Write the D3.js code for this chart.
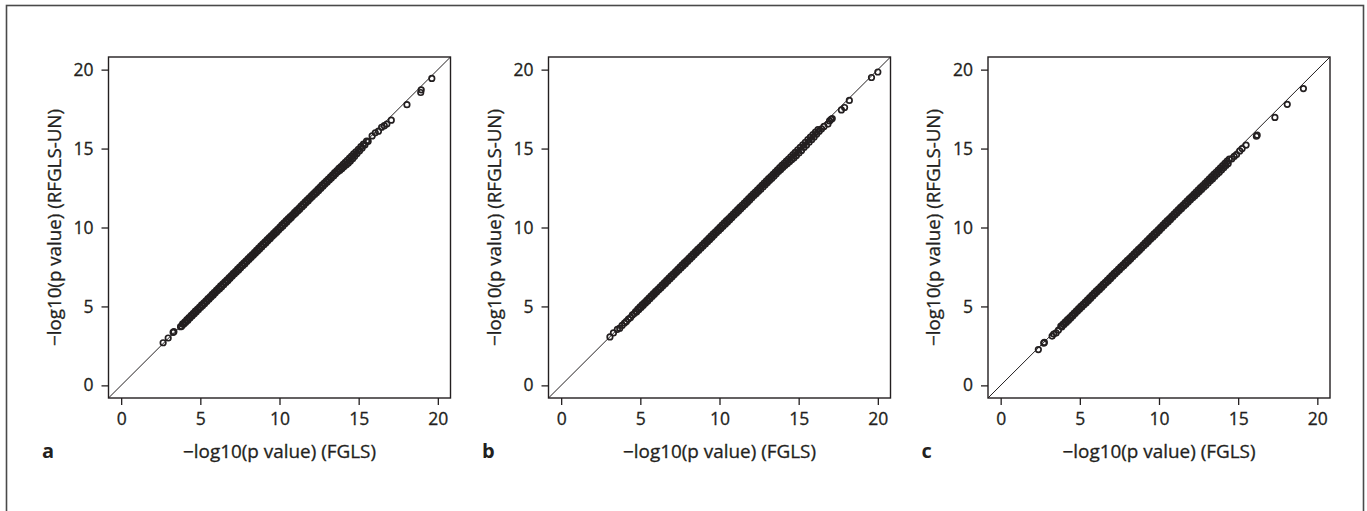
<!DOCTYPE html>
<html>
<head>
<meta charset="utf-8">
<script src="https://cdn.jsdelivr.net/npm/d3@7"></script>
<style>
  html, body { margin: 0; padding: 0; background: #ffffff; }
  svg { display: block; }
  text { font-family: "Open Sans", "Noto Sans", sans-serif; fill: #231f20; }
  .lbl { stroke: #231f20; stroke-width: 0.3px; paint-order: stroke; }
</style>
</head>
<body>
<svg id="chart" width="1367" height="511"></svg>
<script>
// Axis ticks and labels shared by the three comparison panels
const tickValues = [0, 5, 10, 15, 20];
const panelLetters = ["a", "b", "c"];
const xTitle = "\u2212log10(p value) (FGLS)";
const yTitle = "\u2212log10(p value) (RFGLS-UN)";

// Panel a: [-log10 p (FGLS), -log10 p (RFGLS-UN)]
const pointsA = [
  [2.65,2.70],[2.97,3.00],[3.28,3.36],[3.33,3.40],
  [3.75,3.72],[3.82,3.74],[3.88,3.89],[3.95,3.87],[4.02,4.03],[4.08,4.00],[4.15,4.16],[4.22,4.13],[4.28,4.30],[4.35,4.26],
  [4.42,4.43],[4.48,4.40],[4.55,4.56],[4.62,4.53],[4.68,4.70],[4.75,4.66],[4.82,4.83],[4.88,4.79],[4.95,4.96],[5.02,4.93],
  [5.08,5.10],[5.15,5.06],[5.22,5.23],[5.28,5.19],[5.35,5.36],[5.42,5.33],[5.48,5.50],[5.55,5.46],[5.62,5.63],[5.68,5.59],
  [5.75,5.76],[5.82,5.72],[5.88,5.90],[5.95,5.86],[6.02,6.03],[6.08,5.99],[6.15,6.16],[6.22,6.12],[6.28,6.30],[6.35,6.25],
  [6.42,6.43],[6.48,6.38],[6.55,6.56],[6.62,6.52],[6.68,6.69],[6.75,6.65],[6.82,6.83],[6.88,6.78],[6.95,6.96],[7.02,6.92],
  [7.08,7.09],[7.15,7.05],[7.22,7.23],[7.28,7.18],[7.35,7.36],[7.42,7.31],[7.48,7.49],[7.55,7.45],[7.62,7.63],[7.68,7.58],
  [7.75,7.76],[7.82,7.71],[7.88,7.89],[7.95,7.85],[8.02,8.03],[8.08,7.97],[8.15,8.16],[8.22,8.11],[8.28,8.29],[8.35,8.24],
  [8.42,8.43],[8.48,8.37],[8.55,8.56],[8.62,8.51],[8.68,8.69],[8.75,8.64],[8.82,8.83],[8.88,8.77],[8.95,8.96],[9.02,8.91],
  [9.08,9.09],[9.15,9.04],[9.22,9.23],[9.28,9.17],[9.35,9.36],[9.42,9.31],[9.48,9.49],[9.55,9.44],[9.62,9.63],[9.68,9.57],
  [9.75,9.76],[9.82,9.70],[9.88,9.89],[9.95,9.84],[10.02,10.03],[10.08,9.97],[10.15,10.16],[10.22,10.10],[10.28,10.29],[10.35,10.24],
  [10.42,10.43],[10.48,10.37],[10.55,10.56],[10.62,10.50],[10.68,10.69],[10.75,10.63],[10.82,10.82],[10.88,10.77],[10.95,10.96],[11.02,10.90],
  [11.08,11.09],[11.15,11.03],[11.22,11.22],[11.28,11.16],[11.35,11.36],[11.42,11.30],[11.48,11.49],[11.55,11.43],[11.62,11.62],[11.68,11.56],
  [11.75,11.75],[11.82,11.70],[11.88,11.88],[11.95,11.83],[12.02,12.02],[12.08,11.96],[12.15,12.15],[12.22,12.09],[12.28,12.28],[12.35,12.22],
  [12.42,12.42],[12.48,12.35],[12.55,12.55],[12.62,12.49],[12.68,12.68],[12.75,12.62],[12.82,12.81],[12.88,12.75],[12.95,12.94],[13.02,12.88],
  [13.08,13.07],[13.15,13.01],[13.22,13.21],[13.28,13.14],[13.35,13.34],[13.42,13.27],[13.48,13.47],[13.55,13.40],[13.62,13.61],[13.68,13.53],
  [13.75,13.74],[13.82,13.62],[13.88,13.86],[13.95,13.74],[14.02,14.00],[14.08,13.86],[14.15,14.12],[14.22,13.98],[14.28,14.26],[14.35,14.08],
  [14.42,14.39],[14.48,14.22],[14.55,14.52],[14.62,14.36],[14.68,14.66],[14.75,14.52],[14.82,14.79],[14.90,14.68],[14.98,14.95],[15.06,14.86],
  [15.14,15.12],[15.22,15.04],[15.30,15.28],[15.40,15.24],[15.50,15.48],[15.60,15.46],
  [15.85,15.80],[16.05,16.00],[16.25,16.10],[16.45,16.35],[16.62,16.45],[16.78,16.55],[17.06,16.80],
  [18.05,17.78],[18.92,18.55],[18.95,18.72],[19.62,19.44]
];

// Panel b
const pointsB = [
  [3.08,3.07],[3.30,3.32],[3.55,3.55],[3.70,3.62],[3.85,3.80],[4.00,3.95],[4.12,4.05],[4.25,4.20],[4.38,4.30],[4.50,4.46],[4.62,4.55],
  [4.70,4.68],[4.77,4.66],[4.84,4.83],[4.91,4.80],[4.98,4.97],[5.05,4.93],[5.12,5.11],[5.19,5.07],[5.26,5.25],[5.33,5.21],
  [5.40,5.39],[5.47,5.35],[5.54,5.53],[5.61,5.49],[5.68,5.67],[5.75,5.63],[5.82,5.81],[5.89,5.77],[5.96,5.95],[6.03,5.91],
  [6.10,6.09],[6.17,6.05],[6.24,6.23],[6.31,6.18],[6.38,6.37],[6.45,6.32],[6.52,6.51],[6.59,6.46],[6.66,6.65],[6.73,6.60],
  [6.80,6.79],[6.87,6.74],[6.94,6.93],[7.01,6.88],[7.08,7.07],[7.15,7.02],[7.22,7.21],[7.29,7.16],[7.36,7.35],[7.43,7.30],
  [7.50,7.49],[7.57,7.44],[7.64,7.63],[7.71,7.57],[7.78,7.77],[7.85,7.71],[7.92,7.91],[7.99,7.85],[8.06,8.05],[8.13,7.99],
  [8.20,8.19],[8.27,8.13],[8.34,8.33],[8.41,8.27],[8.48,8.47],[8.55,8.41],[8.62,8.61],[8.69,8.55],[8.76,8.75],[8.83,8.69],
  [8.90,8.89],[8.97,8.83],[9.04,9.03],[9.11,8.96],[9.18,9.17],[9.25,9.10],[9.32,9.31],[9.39,9.24],[9.46,9.45],[9.53,9.38],
  [9.60,9.59],[9.67,9.52],[9.74,9.73],[9.81,9.66],[9.88,9.87],[9.95,9.80],[10.02,10.01],[10.09,9.94],[10.16,10.15],[10.23,10.08],
  [10.30,10.29],[10.37,10.21],[10.44,10.43],[10.51,10.35],[10.58,10.57],[10.65,10.49],[10.72,10.71],[10.79,10.63],[10.86,10.85],[10.93,10.77],
  [11.00,10.99],[11.07,10.91],[11.14,11.13],[11.21,11.05],[11.28,11.27],[11.35,11.19],[11.42,11.41],[11.49,11.33],[11.56,11.55],[11.63,11.46],
  [11.70,11.69],[11.77,11.60],[11.84,11.83],[11.91,11.74],[11.98,11.97],[12.05,11.88],[12.12,12.11],[12.19,12.02],[12.26,12.25],[12.33,12.16],
  [12.40,12.39],[12.47,12.30],[12.54,12.53],[12.61,12.43],[12.68,12.67],[12.75,12.57],[12.82,12.81],[12.89,12.71],[12.96,12.95],[13.03,12.85],
  [13.10,13.09],[13.17,12.99],[13.24,13.23],[13.31,13.12],[13.38,13.37],[13.45,13.26],[13.52,13.51],[13.59,13.40],[13.66,13.65],[13.73,13.54],
  [13.80,13.79],[13.87,13.67],[13.94,13.93],[14.01,13.81],[14.08,14.07],[14.15,13.94],[14.22,14.21],[14.29,14.06],[14.36,14.34],[14.43,14.18],
  [14.50,14.48],[14.57,14.30],[14.64,14.62],[14.71,14.42],[14.78,14.76],[14.86,14.56],[14.94,14.92],[15.02,14.72],[15.10,15.08],[15.18,14.88],
  [15.26,15.24],[15.34,15.06],[15.42,15.40],[15.50,15.22],[15.58,15.56],[15.66,15.40],[15.74,15.72],[15.82,15.56],[15.90,15.88],[15.98,15.74],
  [16.06,16.04],[16.14,15.92],[16.22,16.20],[16.30,16.10],
  [16.45,16.25],[16.60,16.40],[16.85,16.55],[16.95,16.75],[17.05,16.85],[17.12,16.90],
  [17.70,17.45],[17.90,17.60],[18.20,18.05],[19.60,19.50],[20.00,19.85]
];

// Panel c
const pointsC = [
  [2.38,2.27],[2.72,2.68],[2.76,2.72],[3.25,3.12],[3.35,3.25],[3.50,3.32],[3.65,3.50],
  [3.80,3.75],[3.87,3.71],[3.94,3.88],[4.01,3.85],[4.08,4.02],[4.15,3.99],[4.22,4.16],[4.29,4.13],[4.36,4.30],[4.43,4.27],
  [4.50,4.44],[4.57,4.41],[4.64,4.58],[4.71,4.55],[4.78,4.72],[4.85,4.69],[4.92,4.86],[4.99,4.83],[5.06,5.00],[5.13,4.96],
  [5.20,5.14],[5.27,5.10],[5.34,5.28],[5.41,5.24],[5.48,5.42],[5.55,5.38],[5.62,5.56],[5.69,5.52],[5.76,5.70],[5.83,5.66],
  [5.90,5.84],[5.97,5.80],[6.04,5.98],[6.11,5.94],[6.18,6.12],[6.25,6.08],[6.32,6.26],[6.39,6.22],[6.46,6.40],[6.53,6.36],
  [6.60,6.53],[6.67,6.50],[6.74,6.67],[6.81,6.63],[6.88,6.81],[6.95,6.77],[7.02,6.95],[7.09,6.91],[7.16,7.09],[7.23,7.05],
  [7.30,7.23],[7.37,7.19],[7.44,7.37],[7.51,7.33],[7.58,7.51],[7.65,7.46],[7.72,7.64],[7.79,7.60],[7.86,7.78],[7.93,7.74],
  [8.00,7.92],[8.07,7.87],[8.14,8.05],[8.21,8.00],[8.28,8.19],[8.35,8.14],[8.42,8.33],[8.49,8.28],[8.56,8.47],[8.63,8.42],
  [8.70,8.61],[8.77,8.56],[8.84,8.75],[8.91,8.70],[8.98,8.89],[9.05,8.84],[9.12,9.03],[9.19,8.97],[9.26,9.17],[9.33,9.11],
  [9.40,9.31],[9.47,9.25],[9.54,9.45],[9.61,9.39],[9.68,9.59],[9.75,9.53],[9.82,9.73],[9.89,9.67],[9.96,9.87],[10.03,9.81],
  [10.10,10.01],[10.17,9.95],[10.24,10.15],[10.31,10.09],[10.38,10.29],[10.45,10.23],[10.52,10.43],[10.59,10.37],[10.66,10.57],[10.73,10.51],
  [10.80,10.71],[10.87,10.65],[10.94,10.85],[11.01,10.79],[11.08,10.99],[11.15,10.93],[11.22,11.13],[11.29,11.07],[11.36,11.27],[11.43,11.21],
  [11.50,11.41],[11.57,11.35],[11.64,11.55],[11.71,11.48],[11.78,11.69],[11.85,11.62],[11.92,11.83],[11.99,11.76],[12.06,11.96],[12.13,11.88],
  [12.20,12.10],[12.27,12.01],[12.34,12.24],[12.41,12.14],[12.48,12.38],[12.55,12.28],[12.62,12.52],[12.69,12.41],[12.76,12.66],[12.83,12.55],
  [12.90,12.80],[12.97,12.68],[13.04,12.94],[13.11,12.82],[13.18,13.08],[13.25,12.96],[13.32,13.22],[13.39,13.09],[13.46,13.36],[13.53,13.23],
  [13.60,13.50],[13.67,13.37],[13.74,13.64],[13.81,13.50],[13.88,13.78],[13.95,13.64],[14.02,13.92],[14.09,13.78],[14.16,14.06],[14.23,13.92],
  [14.30,14.20],[14.37,14.06],[14.44,14.33],
  [14.60,14.35],[14.75,14.50],[14.90,14.62],[15.10,14.85],[15.25,15.00],[15.50,15.22],[16.15,15.78],[16.20,15.85],
  [17.32,16.97],[18.10,17.80],[19.12,18.80]
];

const panels = [pointsA, pointsB, pointsC];

// ---- layout ----
const svg = d3.select("#chart");
const frame = { x: 6.5, y: 5.5, w: 1357, h: 530 };
const panelLeft = [108.5, 548.5, 988];
const panelTop = 57;
const panelW = 342;
const panelH = 341;
const domain = [-0.8, 20.8];
const ink = "#231f20";
const fontStack = "Open Sans, Noto Sans, sans-serif";

// outer figure frame
svg.append("rect")
  .attr("x", frame.x).attr("y", frame.y)
  .attr("width", frame.w).attr("height", frame.h)
  .attr("fill", "none").attr("stroke", "#4a4a4a").attr("stroke-width", 1.6);

panels.forEach((pts, i) => {
  const left = panelLeft[i];
  const x = d3.scaleLinear().domain(domain).range([left, left + panelW]);
  const y = d3.scaleLinear().domain(domain).range([panelTop + panelH, panelTop]);
  const g = svg.append("g");

  const clipId = "clip" + i;
  svg.append("clipPath").attr("id", clipId)
    .append("rect").attr("x", left).attr("y", panelTop)
    .attr("width", panelW).attr("height", panelH);

  // identity reference line
  g.append("line")
    .attr("clip-path", `url(#${clipId})`)
    .attr("x1", x(domain[0])).attr("y1", y(domain[0]))
    .attr("x2", x(domain[1])).attr("y2", y(domain[1]))
    .attr("stroke", ink).attr("stroke-width", 1);

  // points
  g.append("g")
    .attr("clip-path", `url(#${clipId})`)
    .selectAll("circle")
    .data(pts)
    .join("circle")
    .attr("cx", d => x(d[0]))
    .attr("cy", d => y(d[1]))
    .attr("r", 2.75)
    .attr("fill", "none")
    .attr("stroke", ink)
    .attr("stroke-width", 1.7);

  // plot box
  g.append("rect")
    .attr("x", left).attr("y", panelTop)
    .attr("width", panelW).attr("height", panelH)
    .attr("fill", "none").attr("stroke", ink).attr("stroke-width", 1.4);

  // bottom axis
  const xAxis = g.append("g")
    .attr("transform", `translate(0,${panelTop + panelH})`)
    .call(d3.axisBottom(x).tickValues(tickValues).tickSize(7).tickPadding(8).tickFormat(d3.format("d")));
  xAxis.select(".domain").remove();
  xAxis.selectAll(".tick line").attr("stroke", ink).attr("stroke-width", 1.3);
  xAxis.selectAll(".tick text")
    .attr("class", "lbl")
    .attr("fill", ink).attr("font-size", 17.5).attr("font-family", fontStack);

  // left axis
  const yAxis = g.append("g")
    .attr("transform", `translate(${left},0)`)
    .call(d3.axisLeft(y).tickValues(tickValues).tickSize(7).tickPadding(8).tickFormat(d3.format("d")));
  yAxis.select(".domain").remove();
  yAxis.selectAll(".tick line").attr("stroke", ink).attr("stroke-width", 1.3);
  yAxis.selectAll(".tick text")
    .attr("class", "lbl")
    .attr("fill", ink).attr("font-size", 17.5).attr("font-family", fontStack);

  // axis titles
  g.append("text")
    .attr("class", "lbl")
    .attr("x", left + panelW / 2).attr("y", 458)
    .attr("text-anchor", "middle")
    .attr("font-size", 18)
    .attr("textLength", 193).attr("lengthAdjust", "spacingAndGlyphs")
    .text(xTitle);

  g.append("text")
    .attr("class", "lbl")
    .attr("transform", `translate(${left - 48},${panelTop + panelH / 2}) rotate(-90)`)
    .attr("text-anchor", "middle")
    .attr("font-size", 18)
    .attr("textLength", 237).attr("lengthAdjust", "spacingAndGlyphs")
    .text(yTitle);

  // panel letter
  g.append("text")
    .attr("x", left - 66.5).attr("y", 458)
    .attr("font-size", 20).attr("font-weight", 700)
    .text(panelLetters[i]);
});
</script>
</body>
</html>
